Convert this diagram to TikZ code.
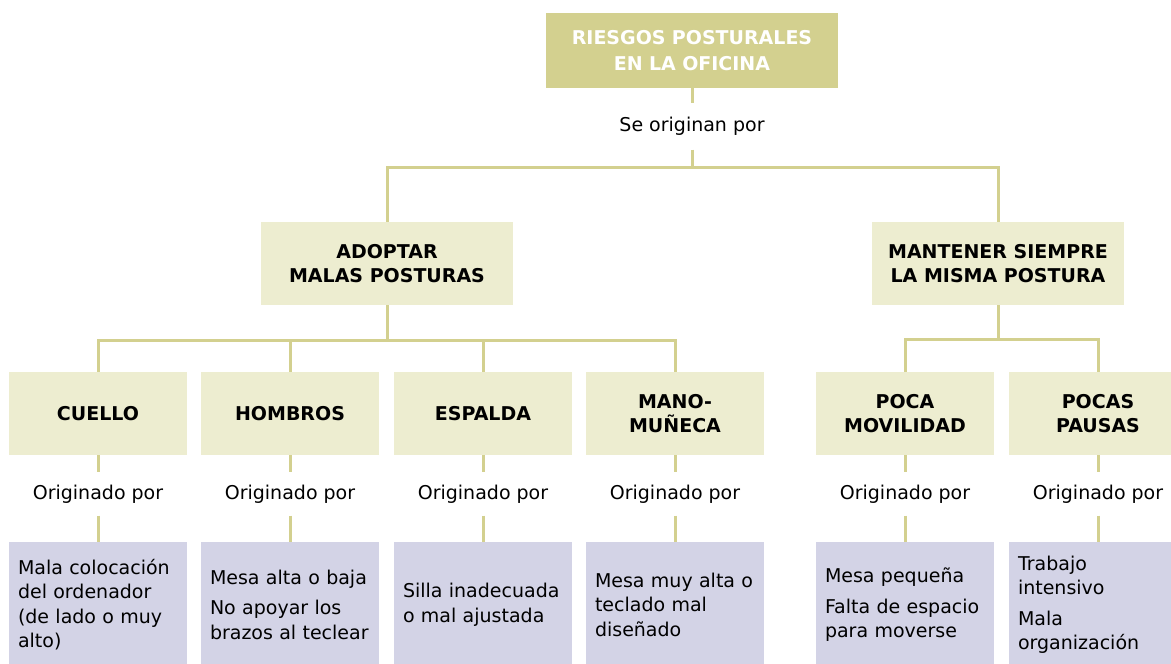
\documentclass[tikz,border=0pt]{standalone}
\usepackage{fontspec}
\setmainfont{DejaVu Sans}
\usetikzlibrary{positioning}
\definecolor{RiesgoOliva}{HTML}{D3D08F}
\definecolor{RiesgoCrema}{HTML}{EDEDD0}
\definecolor{RiesgoLila}{HTML}{D3D3E6}

\begin{document}
\begin{tikzpicture}[
	x=1pt, y=-1pt,
	node distance=17pt,
	titlebox/.style={
		fill=RiesgoOliva,
		text=white,
		text width=292pt,
		minimum height=75pt,
		align=center,
		inner sep=0pt,
		font=\fontsize{19}{26}\selectfont\bfseries
	},
	groupbox/.style={
		fill=RiesgoCrema,
		text=black,
		minimum width=252pt,
		minimum height=83pt,
		align=center,
		inner sep=0pt,
		font=\fontsize{19}{24}\selectfont\bfseries
	},
	partbox/.style={groupbox, minimum width=178pt},
	causebox/.style={
		fill=RiesgoLila,
		text width=160pt,
		minimum height=126pt,
		inner xsep=9pt,
		inner ysep=0pt,
		align=left,
		font=\fontsize{19}{24.5}\selectfont
	},
	linklabel/.style={
		minimum height=43pt,
		inner sep=0pt,
		font=\fontsize{19}{24}\selectfont
	},
	link/.style={
		draw=RiesgoOliva,
		line width=3pt
	}
	]
	\clip (0,0) rectangle (1171,664);
	\node[titlebox] (riesgos) at (692,50.5) {RIESGOS POSTURALES\\EN LA OFICINA};
	\node[linklabel, minimum height=46pt, below=15pt of riesgos] (seorig) {Se originan por};
	\node[groupbox] (adoptar) at (387,263.5) {ADOPTAR\\MALAS POSTURAS};
	\node[groupbox] (mantener) at (998,263.5) {MANTENER SIEMPRE\\LA MISMA POSTURA};
	\node[partbox] (cuello) at (98,413.5) {CUELLO};
	\node[partbox] (hombros) at (290,413.5) {HOMBROS};
	\node[partbox] (espalda) at (483,413.5) {ESPALDA};
	\node[partbox] (mano) at (675,413.5) {MANO-\\MUÑECA};
	\node[partbox] (movilidad) at (905,413.5) {POCA\\MOVILIDAD};
	\node[partbox] (pausas) at (1098,413.5) {POCAS\\PAUSAS};
	\node[linklabel, below=of cuello] (cuello-orig) {Originado por};
	\node[linklabel, below=of hombros] (hombros-orig) {Originado por};
	\node[linklabel, below=of espalda] (espalda-orig) {Originado por};
	\node[linklabel, below=of mano] (mano-orig) {Originado por};
	\node[linklabel, below=of movilidad] (movilidad-orig) {Originado por};
	\node[linklabel, below=of pausas] (pausas-orig) {Originado por};
	\node[causebox, below=26pt of cuello-orig] (cuello-causa) {Mala colocación\\del ordenador\\(de lado o muy\\alto)};
	\node[causebox, below=26pt of hombros-orig] (hombros-causa) {Mesa alta o baja\\[6pt]No apoyar los\\brazos al teclear};
	\node[causebox, below=26pt of espalda-orig] (espalda-causa) {Silla inadecuada\\o mal ajustada};
	\node[causebox, below=26pt of mano-orig] (mano-causa) {Mesa muy alta o\\teclado mal\\diseñado};
	\node[causebox, below=26pt of movilidad-orig] (movilidad-causa) {Mesa pequeña\\[6pt]Falta de espacio\\para moverse};
	\node[causebox, below=26pt of pausas-orig] (pausas-causa) {Trabajo\\intensivo\\[6pt]Mala\\organización};
	\draw[link] (riesgos) -- (seorig);
	\draw[link] (seorig.south) -- ++(0,18) coordinate (ramaA);
	\draw[link] (adoptar.north) |- (ramaA) -| (mantener.north);
	\draw[link] (adoptar.south) -- ++(0,35) coordinate (ramaB);
	\draw[link] (cuello.north) |- (ramaB) -| (mano.north);
	\draw[link] (hombros.north) -- (hombros.north |- ramaB);
	\draw[link] (espalda.north) -- (espalda.north |- ramaB);
	\draw[link] (mantener.south) -- ++(0,34) coordinate (ramaC);
	\draw[link] (movilidad.north) |- (ramaC) -| (pausas.north);
	\foreach \p in {cuello,hombros,espalda,mano,movilidad,pausas}
		\draw[link] (\p) -- (\p-orig) (\p-orig) -- (\p-causa);
\end{tikzpicture}
\end{document}
